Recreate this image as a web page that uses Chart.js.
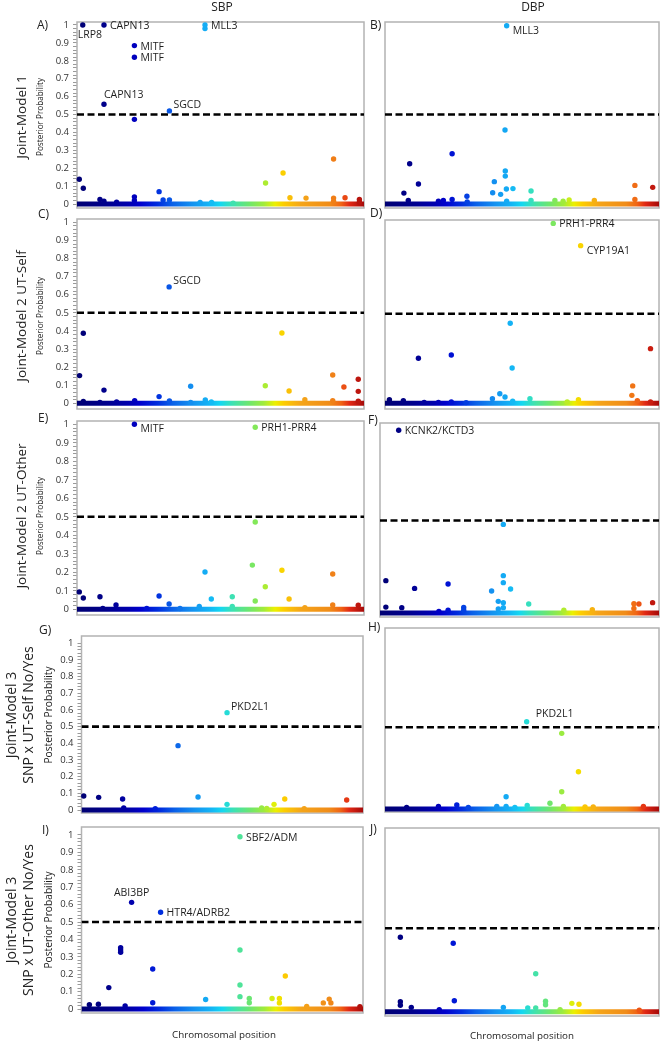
<!DOCTYPE html>
<html>
<head>
<meta charset="utf-8">
<script src="https://cdn.jsdelivr.net/npm/chart.js@4.4.1/dist/chart.umd.min.js"></script>
<style>
body{margin:0;background:#fff;font-family:"Open Sans",sans-serif;color:#222}
#page{position:relative;width:662px;height:1042px;overflow:hidden;background:#fff}
canvas{position:absolute}
.t{position:absolute;white-space:nowrap;line-height:1}
</style>
</head>
<body>
<div id="page"></div>
<script>
// text
columnTitles = ['SBP', 'DBP']
rowTitles = [
  ['Joint-Model 1'],
  ['Joint-Model 2 UT-Self'],
  ['Joint-Model 2 UT-Other'],
  ['Joint-Model 3', 'SNP x UT-Self No/Yes'],
  ['Joint-Model 3', 'SNP x UT-Other No/Yes']
]
panelLetters = ['A)', 'B)', 'C)', 'D)', 'E)', 'F)', 'G)', 'H)', 'I)', 'J)']
yTickLabels = ['0', '0.1', '0.2', '0.3', '0.4', '0.5', '0.6', '0.7', '0.8', '0.9', '1']
yTitle = 'Posterior Probability'
xTitle = 'Chromosomal position'

// dashed cut-off per panel
thresholds = [0.5, 0.5, 0.5, 0.495, 0.5, 0.5, 0.5, 0.5, 0.5, 0.48]

// points: [genome position 0-100, posterior probability]
ptsA = [[0.8,0.138],[2.2,0.088],[20,0.473],[44.6,0.98],[65.7,0.117],[71.8,0.173],[89.4,0.251],[28.6,0.069],[20,0.04],
  [8,0.025],[9.4,0.015],[13.8,0.01],[30,0.022],[32.2,0.022],[20,0.02],[74.2,0.035],[79.8,0.033],[89.4,0.033],
  [89.4,0.015],[42.9,0.008],[46.9,0.008],[54.4,0.005],[93.4,0.035],[98.4,0.025],[98.4,0.01]]
genesA = [[2,1.0,'LRP8'],[9.4,1.0,'CAPN13'],[20,0.885,'MITF'],[20,0.82,'MITF'],[44.6,1.0,'MLL3'],[9.4,0.557,'CAPN13'],[32.2,0.52,'SGCD']]

ptsB = [[43.8,0.413],[24.5,0.281],[9.0,0.225],[12.2,0.112],[6.9,0.061],[29.9,0.043],[43.9,0.184],[43.9,0.156],
  [39.9,0.125],[39.3,0.063],[42.2,0.054],[44.3,0.084],[46.7,0.086],[53.3,0.073],[91.2,0.104],[97.7,0.093],
  [8.5,0.02],[19.5,0.015],[21.3,0.02],[24.5,0.025],[30,0.012],[44.4,0.015],[53.3,0.02],[62,0.02],[65,0.015],
  [67.2,0.022],[76.4,0.02],[91.2,0.025]]
genesB = [[44.4,0.996,'MLL3']]

ptsC = [[2.2,0.387],[0.9,0.153],[9.4,0.073],[39.6,0.094],[28.6,0.037],[65.6,0.097],[71.4,0.388],[73.9,0.068],
  [89.1,0.156],[2.2,0.01],[8,0.005],[13.8,0.008],[20.1,0.015],[32.2,0.013],[39.6,0.005],[44.7,0.018],[46.8,0.008],
  [79.4,0.02],[89.1,0.015],[93.0,0.09],[98.0,0.133],[98.0,0.066],[98,0.012]]
genesC = [[32.1,0.643,'SGCD']]

ptsD = [[45.7,0.442],[12.2,0.249],[24.2,0.267],[46.4,0.195],[96.9,0.302],[90.4,0.096],[90.1,0.044],[41.9,0.053],
  [43.8,0.035],[1.6,0.02],[6.7,0.015],[14.3,0.005],[19.5,0.005],[24.2,0.008],[29.6,0.004],[39.2,0.025],[46.6,0.012],
  [52.9,0.025],[66.5,0.008],[70.6,0.02],[92.1,0.015],[96.9,0.008]]
genesD = [[61.4,0.994,'PRH1-PRR4'],[71.4,0.871,'CYP19A1']]

ptsE = [[62.1,0.472],[61.1,0.239],[71.4,0.211],[44.6,0.202],[89.1,0.191],[65.6,0.122],[0.8,0.094],[2.2,0.061],
  [8.0,0.068],[28.6,0.072],[54.1,0.068],[46.8,0.056],[73.9,0.056],[62.1,0.045],[32.1,0.029],[13.6,0.023],
  [42.6,0.015],[54.1,0.015],[79.4,0.008],[89.1,0.023],[9,0.005],[24.3,0.005],[35.9,0.004],[98,0.022]]
genesE = [[20,1.0,'MITF'],[62.1,0.984,'PRH1-PRR4']]

ptsF = [[44.2,0.479],[2.1,0.175],[12.4,0.133],[24.4,0.157],[44.2,0.202],[44.2,0.164],[40.0,0.119],[46.8,0.13],
  [42.4,0.063],[44.2,0.056],[44.2,0.029],[42.4,0.022],[2.1,0.032],[7.8,0.029],[53.3,0.049],[91.0,0.05],
  [92.8,0.049],[91.0,0.025],[97.7,0.056],[24.4,0.015],[30.0,0.03],[30.0,0.015],[21.1,0.008],[65.9,0.015],[76.1,0.018]]
genesF = [[6.7,0.988,'KCNK2/KCTD3']]

ptsG = [[34.3,0.386],[0.8,0.084],[6.1,0.076],[14.6,0.066],[41.4,0.078],[72.2,0.066],[51.7,0.034],[68.4,0.034],
  [15,0.012],[26.2,0.008],[64,0.012],[65.8,0.01],[79.1,0.008],[94.2,0.06]]
genesG = [[51.7,0.584,'PKD2L1']]

ptsH = [[64.5,0.463],[70.6,0.228],[64.5,0.106],[44.2,0.075],[7.9,0.01],[19.5,0.015],[26.2,0.025],[30.4,0.01],
  [40.8,0.015],[44.2,0.015],[47.4,0.01],[51.9,0.022],[60.2,0.035],[65.1,0.015],[73,0.012],[76,0.013],[94.3,0.015]]
genesH = [[51.7,0.534,'PKD2L1']]

ptsI = [[13.9,0.352],[13.9,0.339],[13.9,0.326],[25.3,0.23],[9.7,0.123],[56.3,0.339],[56.3,0.138],[56.3,0.071],
  [72.4,0.19],[59.6,0.06],[59.6,0.036],[67.7,0.06],[70.3,0.06],[70.3,0.035],[44.1,0.055],[25.3,0.036],[2.8,0.025],
  [6.0,0.027],[15.5,0.018],[88.0,0.057],[88.6,0.035],[85.9,0.035],[80,0.015],[98.9,0.013]]
genesI = [[56.3,0.99,'SBF2/ADM'],[17.8,0.613,'ABI3BP'],[28.1,0.556,'HTR4/ADRB2']]

ptsJ = [[5.6,0.428],[24.9,0.393],[55.0,0.218],[5.6,0.057],[5.6,0.037],[9.6,0.025],[25.3,0.063],[58.6,0.06],
  [58.6,0.04],[68.2,0.048],[70.8,0.043],[43.2,0.025],[52.1,0.022],[55,0.022],[19.8,0.012],[63.9,0.012],[92.8,0.008]]
genesJ = []

allPts = [ptsA, ptsB, ptsC, ptsD, ptsE, ptsF, ptsG, ptsH, ptsI, ptsJ]
allGenes = [genesA, genesB, genesC, genesD, genesE, genesF, genesG, genesH, genesI, genesJ]

// where each gene name sits next to its dot
labelPlace = [
  ['below', 'right', 'right', 'right', 'right', 'above', 'upright'],
  ['downright'],
  ['upright'],
  ['right', 'downright'],
  ['downright', 'right'],
  ['right'],
  ['upright'],
  ['uprightfar'],
  ['right', 'abovecenter', 'right'],
  []
]
placeOffsets = {
  right: [6, 1], downright: [6, 5], upright: [4, -6], uprightfar: [9, -8],
  above: [0, -9], abovecenter: [0, -9], below: [-5, 10]
}

// chromosome colour ramp (jet-like)
chromColors = [
  [0.00, 0, 0, 115], [0.10, 0, 0, 140], [0.18, 0, 0, 175], [0.22, 0, 0, 205], [0.28, 0, 45, 222],
  [0.33, 10, 95, 232], [0.40, 20, 145, 240], [0.46, 20, 180, 245], [0.50, 20, 215, 240], [0.54, 60, 225, 180],
  [0.60, 110, 230, 110], [0.65, 160, 235, 60], [0.69, 235, 240, 0], [0.72, 252, 205, 0], [0.78, 245, 165, 25],
  [0.88, 240, 140, 25], [0.92, 240, 100, 20], [0.95, 225, 40, 20], [1.00, 165, 10, 10]
]

function colorAt(f){
  f = Math.max(0, Math.min(1, f))
  for (let i = 1; i < chromColors.length; i++){
    const a = chromColors[i-1], b = chromColors[i]
    if (f <= b[0]){
      const t = (f - a[0]) / (b[0] - a[0])
      const c = [1,2,3].map(k => Math.round(a[k] + (b[k]-a[k]) * t))
      return 'rgb(' + c.join(',') + ')'
    }
  }
  return 'rgb(165,10,10)'
}

// panel frames [left, top, right, bottom] and pixel rows of y=0 / y=1
frames = [
  [77, 22, 364, 208, 204, 25], [385, 22, 659, 208, 204, 25],
  [77, 219, 364, 409, 403.3, 222.3], [385, 220, 659, 409, 403.3, 222.3],
  [77, 421, 364, 615, 609.3, 424.3], [379.5, 423, 658.5, 617, 613, 428],
  [81.5, 636, 363, 813, 810, 643.3], [385, 628, 659, 812, 809, 645.6],
  [81.5, 827, 363, 1013, 1009, 835], [385, 828, 659, 1016, 1011.7, 837.7]
]

page = document.getElementById('page')

function addText(txt, x, y, size, anchor, rotate, color){
  const d = document.createElement('div')
  d.className = 't'
  d.textContent = txt
  d.style.left = x + 'px'
  d.style.top = y + 'px'
  d.style.fontSize = size + 'px'
  if (color) d.style.color = color
  let tr = anchor == 'left' ? 'translate(0,-50%)' : 'translate(-50%,-50%)'
  if (rotate) tr += ' rotate(-90deg)'
  d.style.transform = tr
  page.appendChild(d)
}

framePlugin = {
  id: 'frame',
  beforeDatasetsDraw(chart){
    const a = chart.chartArea, ctx = chart.ctx
    ctx.save()
    ctx.strokeStyle = '#b3b3b3'
    ctx.lineWidth = 1.5
    ctx.strokeRect(a.left, a.top, a.right - a.left, a.bottom - a.top)
    ctx.restore()
  }
}

genePlugin = {
  id: 'genes',
  afterDatasetsDraw(chart, args, opts){
    const ctx = chart.ctx, xs = chart.scales.x, ys = chart.scales.y
    ctx.save()
    ctx.font = '10.5px "Open Sans"'
    ctx.fillStyle = '#1e1e1e'
    ctx.textBaseline = 'middle'
    opts.genes.forEach((g, k) => {
      const place = opts.place[k]
      const off = placeOffsets[place]
      ctx.textAlign = place == 'abovecenter' ? 'center' : 'left'
      ctx.fillText(g[2], xs.getPixelForValue(g[0]) + off[0], ys.getPixelForValue(g[1]) + off[1])
    })
    ctx.restore()
  }
}

function makePanel(i){
  const [fl, ft, fr, fb, y0, y1] = frames[i]
  const left = i % 2 == 0
  const unit = y0 - y1
  const yMin = -(fb - y0) / unit
  const yMax = 1 + (y1 - ft) / unit
  const pad = 8
  const cv = document.createElement('canvas')
  const cx = left ? 0 : fl - 4
  const w = fr + 4 - cx
  const h = fb - ft + 2 * pad
  cv.width = w
  cv.height = h
  cv.style.left = cx + 'px'
  cv.style.top = (ft - pad) + 'px'
  page.appendChild(cv)

  const pts = allPts[i].concat(allGenes[i].map(g => [g[0], g[1]]))
  const data = pts.map(p => ({x: p[0], y: p[1]}))

  new Chart(cv, {
    type: 'scatter',
    data: {
      datasets: [
        {
          data: data,
          pointRadius: 2.7,
          pointBorderWidth: 0,
          pointBackgroundColor: pts.map(p => colorAt(p[0] / 100)),
          clip: 3
        },
        {
          type: 'line',
          data: [{x: 0, y: thresholds[i]}, {x: 100, y: thresholds[i]}],
          borderColor: '#000',
          borderWidth: 2.6,
          borderDash: [7, 3.5],
          pointRadius: 0
        },
        {
          type: 'line',
          data: [{x: 0, y: 0}, {x: 100, y: 0}],
          borderWidth: 5,
          pointRadius: 0,
          borderCapStyle: 'butt',
          borderColor: ctx => {
            const ch = ctx.chart
            if (!ch.chartArea) return 'rgb(0,0,115)'
            const g = ch.ctx.createLinearGradient(ch.chartArea.left, 0, ch.chartArea.right, 0)
            chromColors.forEach(c => g.addColorStop(c[0], 'rgb(' + c[1] + ',' + c[2] + ',' + c[3] + ')'))
            return g
          }
        }
      ]
    },
    options: {
      responsive: false,
      animation: false,
      events: [],
      layout: {padding: {top: pad, bottom: pad, left: left ? 0 : 4, right: 4}},
      plugins: {
        legend: {display: false},
        tooltip: {enabled: false},
        genes: {genes: allGenes[i], place: labelPlace[i]}
      },
      scales: {
        x: {type: 'linear', min: 0, max: 100, display: false},
        y: {
          type: 'linear',
          min: yMin,
          max: yMax,
          display: left,
          border: {display: false},
          grid: {drawOnChartArea: false, drawTicks: true, tickLength: 4, color: '#9a9a9a'},
          ticks: {
            padding: 4,
            autoSkip: false,
            color: '#333',
            font: {family: 'Open Sans', size: 9.5},
            callback: v => {
              const k = Math.round(v * 10)
              return Math.abs(v * 10 - k) < 1e-6 ? yTickLabels[k] : ''
            }
          },
          afterBuildTicks: axis => {
            const t = []
            for (let k = 0; k <= 50; k++) t.push({value: k / 50})
            axis.ticks = t
          },
          afterFit: axis => {
            if (!left) return
            axis.width = fl
            axis.paddingTop = 0
            axis.paddingBottom = 0
          }
        }
      }
    },
    plugins: [framePlugin, genePlugin]
  })
}

for (let i = 0; i < 10; i++) makePanel(i)

// headings and side titles
addText(columnTitles[0], 222, 7, 12)
addText(columnTitles[1], 533, 7, 12)

letterPos = [[37, 25], [370, 25], [38, 214], [370, 213], [38, 418], [368, 420], [39, 630], [368, 627], [42, 830], [370, 829]]
panelLetters.forEach((l, i) => addText(l, letterPos[i][0], letterPos[i][1], 12, 'left'))

rowCenters = [117, 316, 516, 715, 920]
rowTitles.forEach((r, i) => {
  if (r.length == 1){
    addText(r[0], 22, rowCenters[i], 13.5, 'center', true)
    addText(yTitle, 40, rowCenters[i], 8.2, 'center', true)
  } else {
    addText(r[0], 11, rowCenters[i], 14, 'center', true)
    addText(r[1], 28, rowCenters[i], 14, 'center', true)
    addText(yTitle, 48, rowCenters[i], 10.2, 'center', true)
  }
})

addText(xTitle, 224, 1035, 9.8)
addText(xTitle, 522, 1036, 9.8)
</script>
</body>
</html>
